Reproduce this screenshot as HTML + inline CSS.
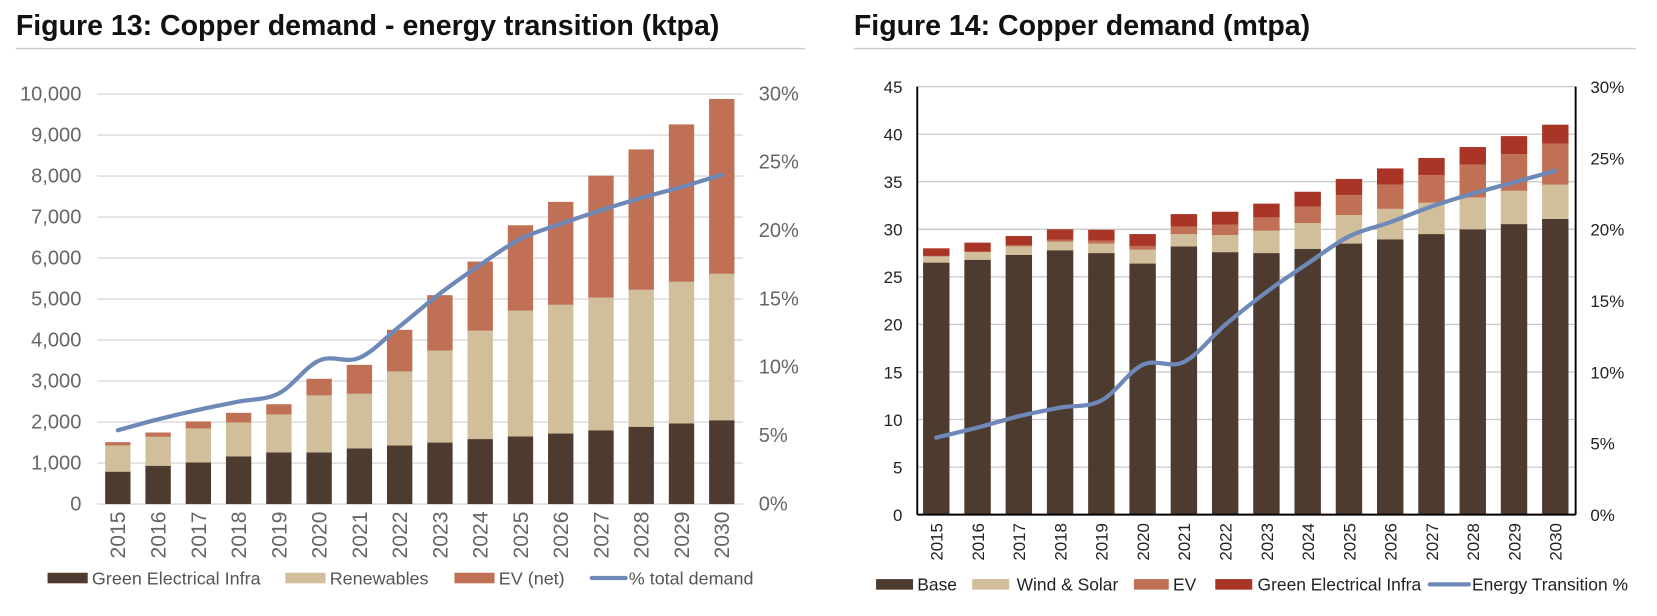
<!DOCTYPE html>
<html><head><meta charset="utf-8"><style>
body{margin:0;background:#fff;width:1657px;height:611px;overflow:hidden;font-family:"Liberation Sans",sans-serif}
svg text{font-family:"Liberation Sans",sans-serif}
</style></head><body>
<svg id="s" width="1657" height="611" viewBox="0 0 1568 578.2" preserveAspectRatio="none" xmlns="http://www.w3.org/2000/svg">
<text x="15" y="33" font-size="27" font-weight="bold" fill="#111">Figure 13: Copper demand - energy transition (ktpa)</text>
<line x1="15" y1="46" x2="762" y2="46" stroke="#ccc" stroke-width="1.5"/>
<text x="808" y="33" font-size="27" font-weight="bold" fill="#111">Figure 14: Copper demand (mtpa)</text>
<line x1="808" y1="46" x2="1548" y2="46" stroke="#ccc" stroke-width="1.5"/>
<g id="c1"></g>
<g id="c2"></g>
</svg>
<script>
const years=["2015","2016","2017","2018","2019","2020","2021","2022","2023","2024","2025","2026","2027","2028","2029","2030"];
// Figure 13 (ktpa)
const greenInfra=[790,935,1015,1160,1260,1260,1355,1430,1500,1585,1650,1720,1800,1885,1965,2045];
const renewables=[640,705,830,830,925,1390,1335,1805,2245,2645,3070,3140,3235,3340,3455,3570];
const evNet=[80,105,170,235,250,405,705,1015,1350,1685,2080,2510,2975,3425,3840,4265];
const pctTotal=[5.4,6.2,6.9,7.5,8.1,10.5,10.7,13.0,15.4,17.5,19.4,20.5,21.5,22.4,23.2,24.1];
const leftTicks13=["0","1,000","2,000","3,000","4,000","5,000","6,000","7,000","8,000","9,000","10,000"];
const rightTicks13=["0%","5%","10%","15%","20%","25%","30%"];
// Figure 14 (mtpa)
const base=[26.5,26.8,27.3,27.8,27.5,26.4,28.2,27.6,27.5,27.95,28.5,28.95,29.5,30.0,30.55,31.1];
const windSolar=[0.65,0.8,0.9,0.9,1.0,1.45,1.3,1.8,2.35,2.7,3.0,3.2,3.3,3.35,3.5,3.6];
const ev=[0.05,0.05,0.15,0.2,0.3,0.4,0.8,1.1,1.4,1.75,2.1,2.55,2.9,3.45,3.85,4.3];
const greenElec=[0.8,0.95,0.95,1.1,1.15,1.25,1.3,1.35,1.45,1.55,1.7,1.7,1.8,1.85,1.9,2.0];
const energyPct=[5.4,6.1,6.9,7.5,8.0,10.5,10.7,13.3,15.6,17.6,19.5,20.5,21.6,22.5,23.3,24.1];
const leftTicks14=["0","5","10","15","20","25","30","35","40","45"];
const rightTicks14=["0%","5%","10%","15%","20%","25%","30%"];

const NS="http://www.w3.org/2000/svg";
function mk(parent,tag,attrs,text){const e=document.createElementNS(NS,tag);for(const k in attrs)e.setAttribute(k,attrs[k]);if(text!==undefined)e.textContent=text;parent.appendChild(e);return e;}
function smoothPath(pts){let d="M"+pts[0][0]+","+pts[0][1];for(let i=0;i<pts.length-1;i++){const p0=pts[i-1]||pts[i],p1=pts[i],p2=pts[i+1],p3=pts[i+2]||p2;const t=0.17;d+=" C"+(p1[0]+(p2[0]-p0[0])*t)+","+(p1[1]+(p2[1]-p0[1])*t)+" "+(p2[0]-(p3[0]-p1[0])*t)+","+(p2[1]-(p3[1]-p1[1])*t)+" "+p2[0]+","+p2[1];}return d;}

// ---- Chart 13 ----
(function(){
const g=document.getElementById('c1');
const y0=477,yT=89,vMax=10000;
const y=v=>y0-(v/vMax)*(y0-yT);
const yp=p=>y0-(p/30)*(y0-yT);
const x=i=>111.5+38.1*i;
leftTicks13.forEach((t,i)=>{const yy=y(i*1000);
 const l=mk(g,'line',{x1:92,x2:703,y1:yy,y2:yy,stroke:'#d9d9d9','stroke-width':1.3});
 
 const tx=mk(g,'text',{x:77,y:yy+6,'text-anchor':'end','font-size':19,fill:'#666'},t);
 });
rightTicks13.forEach((t,i)=>{const tx=mk(g,'text',{x:718,y:yp(i*5)+6,'font-size':19,fill:'#666'},t);
 });
const series=[[greenInfra,'#4d3b30','bar-green-infra'],[renewables,'#d1bf9b','bar-renewables'],[evNet,'#c07055','bar-ev']];
years.forEach((yr,i)=>{let acc=0;
 series.forEach(s=>{const v=s[0][i];const r=mk(g,'rect',{x:x(i)-12,y:y(acc+v),width:24,height:y(acc)-y(acc+v),fill:s[1]});
  acc+=v;});
 const tx=mk(g,'text',{transform:`translate(${x(i)+7},${484}) rotate(-90)`,'text-anchor':'end','font-size':20,fill:'#666'},yr);
 });
const p=mk(g,'path',{d:smoothPath(pctTotal.map((v,i)=>[x(i),yp(v)])),fill:'none',stroke:'#6e89b8','stroke-width':4,'stroke-linecap':'round'});

const leg=[['rect',45,83,'#4d3b30','Green Electrical Infra',87],['rect',270,308,'#d1bf9b','Renewables',312],['rect',430,468,'#c07055','EV (net)',472],['line',560,592,'#6e89b8','% total demand',595]];
leg.forEach(L=>{const e=L[0]==='rect'?mk(g,'rect',{x:L[1],y:542,width:L[2]-L[1],height:10,fill:L[3]}):mk(g,'line',{x1:L[1],x2:L[2],y1:547,y2:547,stroke:L[3],'stroke-width':4,'stroke-linecap':'round'});
 
 const t=mk(g,'text',{x:L[5],y:553,'font-size':17,fill:'#555'},L[4]);
 });
})();

// ---- Chart 14 ----
(function(){
const g=document.getElementById('c2');
const y0=487,yT=82,vMax=45;
const y=v=>y0-(v/vMax)*(y0-yT);
const yp=p=>y0-(p/30)*(y0-yT);
const x=i=>886+39.05*i;
leftTicks14.forEach((t,i)=>{const yy=y(i*5);
 if(i>0){const l=mk(g,'line',{x1:868,x2:1491,y1:yy,y2:yy,stroke:'#c8c8c8','stroke-width':1.2});
 }
 const tx=mk(g,'text',{x:854,y:yy+6,'text-anchor':'end','font-size':16,fill:'#222'},t);
 });
rightTicks14.forEach((t,i)=>{const tx=mk(g,'text',{x:1505,y:yp(i*5)+6,'font-size':16,fill:'#222'},t);
 });
const series=[[base,'#4d3b30','bar-base'],[windSolar,'#d1bf9b','bar-wind-solar'],[ev,'#c07055','bar-ev'],[greenElec,'#a83526','bar-green-electrical']];
years.forEach((yr,i)=>{let acc=0;
 series.forEach(s=>{const v=s[0][i];const r=mk(g,'rect',{x:x(i)-12.5,y:y(acc+v),width:25,height:y(acc)-y(acc+v),fill:s[1]});
  acc+=v;});
 const tx=mk(g,'text',{transform:`translate(${x(i)+6},${495}) rotate(-90)`,'text-anchor':'end','font-size':16,fill:'#222'},yr);
 });
const ax=[[868,82,868,487],[1491,82,1491,487],[868,487,1491,487]];
ax.forEach(a=>{const l=mk(g,'line',{x1:a[0],y1:a[1],x2:a[2],y2:a[3],stroke:'#000','stroke-width':1.8});
 });
const p=mk(g,'path',{d:smoothPath(energyPct.map((v,i)=>[x(i),yp(v)])),fill:'none',stroke:'#6e89b8','stroke-width':4,'stroke-linecap':'round'});

const leg=[['rect',829,864,'#4d3b30','Base',868],['rect',920,955,'#d1bf9b','Wind & Solar',962],['rect',1073,1106,'#c07055','EV',1110],['rect',1150,1185,'#a83526','Green Electrical Infra',1190],['line',1353,1390,'#6e89b8','Energy Transition %',1393]];
leg.forEach(L=>{const e=L[0]==='rect'?mk(g,'rect',{x:L[1],y:548,width:L[2]-L[1],height:10,fill:L[3]}):mk(g,'line',{x1:L[1],x2:L[2],y1:553,y2:553,stroke:L[3],'stroke-width':4,'stroke-linecap':'round'});
 
 const t=mk(g,'text',{x:L[5],y:559,'font-size':16.5,fill:'#222'},L[4]);
 });
})();
</script>
</body></html>
